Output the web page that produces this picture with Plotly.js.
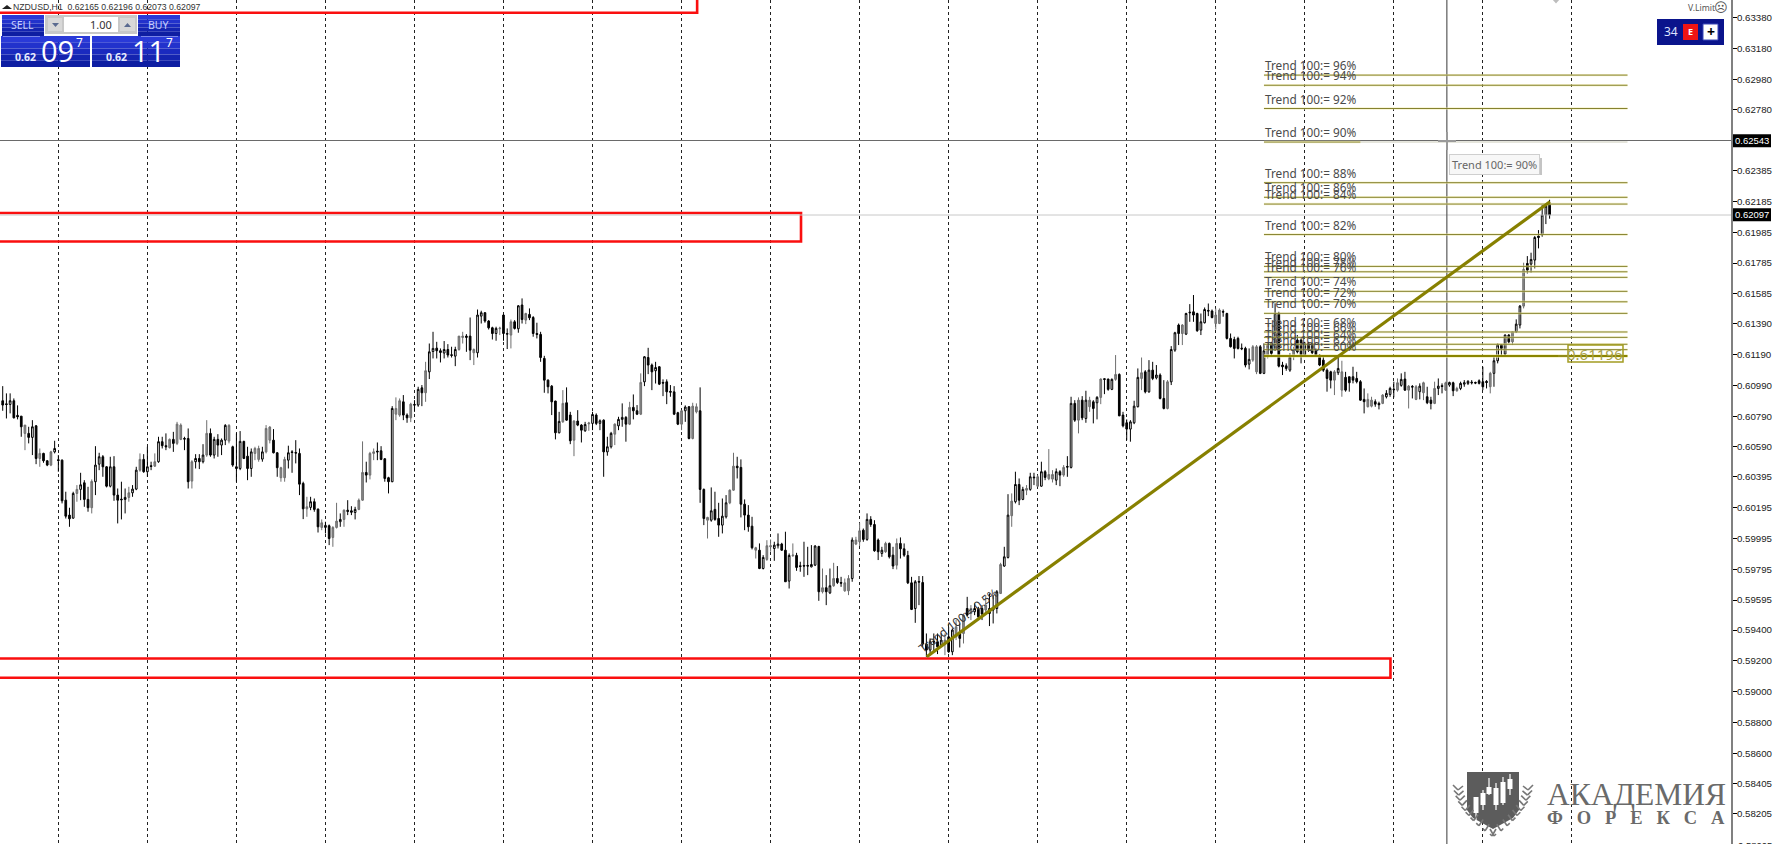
<!DOCTYPE html>
<html><head><meta charset="utf-8">
<script src="https://cdn.plot.ly/plotly-3.0.1.min.js"></script>
<style>html,body{margin:0;padding:0;background:#fff;overflow:hidden}#c{width:1777px;height:844px}</style>
</head><body><div id="c"></div>
<script>
// Prices x 100000 (NZDUSD H1)
const barOpen=[
60890,60870,60866,60890,60795,60790,60678,60678,60652,60727,
60515,60548,60500,60472,60558,60507,60504,60244,60147,60127,
60288,60314,60357,60249,60195,60364,60478,60526,60461,60335,
60461,60277,60251,60249,60262,60292,60316,60439,60509,60429,
60468,60465,60494,60624,60598,60585,60639,60613,60639,60645,
60645,60368,60494,60515,60494,60537,60678,60537,60639,60602,
60634,60628,60591,60461,60450,60626,60530,60450,60548,60509,
60511,60558,60634,60634,60552,60390,60390,60504,60558,60554,
60548,60353,60188,60197,60234,60186,60067,60067,60078,60002,
60067,60104,60119,60179,60175,60164,60184,60244,60424,60407,
60548,60563,60565,60513,60390,60364,60803,60797,60883,60797,
60779,60866,60862,60974,60942,61078,61210,61232,61215,61200,
61223,61189,61180,61223,61301,61301,61310,61202,61202,61440,
61462,61408,61364,61327,61358,61447,61327,61317,61403,61358,
61512,61414,61451,61431,61327,61321,61165,61024,60985,60888,
60682,60753,60877,60797,60634,60758,60732,60695,60740,60743,
60797,60743,60764,60558,60591,60673,60727,60769,60782,60738,
60847,60825,60803,61013,61171,61122,61085,61111,61009,61013,
60951,60948,60812,60738,60825,60851,60645,60818,60825,60314,
60114,60114,60184,60125,60082,60136,60227,60309,60465,60457,
60218,60147,60075,59919,59919,59800,59859,59941,59930,59948,
59959,59919,59718,59883,59885,59818,59820,59820,59811,59822,
59943,59649,59675,59642,59688,59735,59709,59655,59655,59735,
59959,59974,60049,59989,60119,60086,59985,59898,59909,59963,
59887,59822,59963,59928,59885,59707,59540,59716,59709,59309,
59270,59326,59324,59302,59313,59356,59259,59356,59378,59378,
59540,59508,59519,59534,59540,59530,59540,59530,59540,59638,
59816,59872,60143,60234,60346,60249,60309,60314,60394,60335,
60335,60429,60383,60381,60374,60429,60407,60463,60457,60873,
60764,60894,60775,60851,60883,60877,60912,61033,61031,60964,
61029,61061,60797,60747,60706,60747,60851,61035,61078,60948,
61089,61039,61057,60905,60840,61013,61219,61382,61327,61323,
61466,61468,61457,61349,61397,61477,61473,61392,61392,61470,
61457,61295,61288,61295,61232,61230,61128,61154,61078,61241,
61068,61176,61263,61219,61458,61122,61117,61089,61176,61284,
61284,61187,61263,61263,61219,61187,61154,61089,61078,61024,
61072,60959,61042,61046,61046,61035,61014,60899,60851,60855,
60884,60873,60873,60916,60931,60966,60959,60990,61031,60959,
60983,60899,60949,60942,60916,60894,60873,60970,60988,60959,
60992,61007,60955,60970,60998,61003,61011,61009,61020,61014,
61016,60981,61068,61150,61252,61193,61317,61273,61338,61382,
61505,61782,61778,61804,61960,61967,62097,62165];
const barHigh=[
60985,60938,60938,60905,60860,60790,60732,60721,60764,60732,
60580,60552,60504,60565,60630,60537,60509,60299,60195,60299,
60342,60422,60374,60331,60379,60595,60552,60537,60465,60526,
60530,60320,60364,60320,60331,60342,60461,60548,60543,60591,
60494,60548,60656,60656,60678,60645,60688,60753,60743,60656,
60710,60504,60543,60543,60608,60764,60710,60656,60673,60645,
60738,60738,60598,60678,60693,60630,60591,60580,60591,60598,
60591,60732,60725,60706,60556,60461,60526,60598,60569,60634,
60580,60364,60266,60266,60255,60190,60119,60104,60086,60075,
60227,60158,60184,60244,60205,60201,60255,60626,60494,60558,
60580,60619,60595,60517,60396,60855,60912,60905,60927,60808,
60877,60894,60981,60992,61143,61262,61338,61273,61230,61278,
61258,61241,61241,61310,61338,61323,61431,61230,61483,61475,
61466,61414,61371,61371,61371,61451,61360,61418,61414,61512,
61555,61462,61490,61440,61397,61338,61182,61029,60992,60890,
60818,60959,60977,60818,60764,60829,60738,60753,60753,60818,
60808,60769,60769,60656,60688,60743,60786,60873,60790,60883,
60931,60862,61068,61180,61234,61132,61143,61115,61029,61029,
60992,60985,60818,60829,60860,60855,60877,60873,60977,60320,
60136,60327,60299,60227,60255,60277,60314,60552,60526,60509,
60249,60212,60136,59941,59963,59887,59984,59989,59974,60028,
59967,60039,59898,59963,59902,59844,59974,59941,59952,59952,
59948,59800,59757,59800,59837,59816,59746,59735,59757,60002,
60006,60097,60060,60158,60140,60114,59995,59941,59974,59969,
59941,59995,60002,59963,59915,59746,59725,59751,59751,59378,
59346,59378,59378,59378,59378,59421,59411,59465,59443,59508,
59616,59562,59573,59551,59562,59627,59638,59627,59660,59837,
59941,60283,60288,60429,60385,60331,60342,60422,60422,60407,
60494,60439,60576,60439,60450,60439,60472,60530,60916,60894,
60912,60920,60955,60916,60894,60920,61035,61035,61033,61035,
61187,61068,60818,60769,60764,60890,61100,61171,61089,61154,
61143,61122,61068,61024,61024,61245,61338,61392,61388,61462,
61518,61577,61462,61457,61496,61522,61483,61490,61490,61483,
61462,61327,61306,61306,61262,61241,61230,61252,61252,61252,
61263,61263,61273,61523,61468,61143,61133,61198,61241,61317,
61295,61273,61273,61267,61230,61193,61176,61100,61085,61089,
61176,61150,61078,61046,61111,61078,61024,60970,60938,60916,
60899,60884,60933,60959,60981,61014,61035,61068,61078,60992,
60992,60992,61003,61014,60981,60916,61014,61035,61003,61014,
61014,61014,60981,61014,61024,61024,61024,61014,61029,61111,
61024,61078,61176,61263,61258,61321,61323,61343,61419,61512,
61787,61830,61852,61960,61999,62162,62172,62196];
const barLow=[
60825,60775,60808,60775,60769,60656,60569,60613,60537,60478,
60461,60487,60465,60465,60548,60429,60223,60125,60071,60125,
60234,60244,60201,60169,60158,60277,60439,60396,60327,60327,
60240,60093,60119,60158,60234,60266,60309,60429,60422,60396,
60439,60461,60487,60580,60569,60580,60558,60602,60634,60569,
60320,60320,60450,60446,60483,60526,60526,60515,60526,60537,
60602,60613,60461,60364,60439,60511,60374,60396,60504,60494,
60494,60548,60613,60548,60396,60364,60364,60450,60422,60483,
60277,60121,60136,60179,60169,60034,60049,60028,59952,59941,
60060,60071,60071,60147,60147,60119,60179,60240,60359,60379,
60504,60504,60504,60364,60288,60361,60764,60786,60764,60747,
60751,60818,60851,60855,60883,61031,61165,61165,61139,61165,
61171,61171,61115,61215,61262,61208,61154,61122,61171,61392,
61397,61353,61288,61280,61317,61280,61226,61230,61353,61332,
61392,61388,61414,61306,61295,61143,60942,60938,60797,60639,
60678,60747,60760,60608,60530,60725,60619,60688,60695,60699,
60732,60699,60396,60533,60580,60602,60699,60721,60624,60732,
60769,60797,60797,60985,61063,60959,61002,60992,60920,60868,
60916,60797,60732,60699,60753,60639,60639,60808,60227,60082,
59995,60104,60110,60006,60028,60125,60218,60305,60385,60132,
60049,60039,59924,59865,59796,59794,59850,59909,59850,59930,
59915,59714,59670,59876,59785,59779,59746,59757,59807,59816,
59590,59638,59562,59634,59681,59699,59681,59649,59627,59714,
59952,59946,59974,59980,60071,59909,59855,59876,59902,59865,
59796,59794,59865,59876,59699,59530,59447,59562,59291,59226,
59237,59259,59244,59291,59237,59252,59237,59335,59287,59313,
59486,59465,59497,59465,59465,59508,59426,59443,59508,59634,
59811,59865,60071,60223,60212,60244,60277,60305,60342,60331,
60331,60374,60374,60359,60342,60335,60396,60396,60450,60753,
60678,60764,60747,60818,60743,60769,60868,60933,60955,60959,
61020,60790,60717,60634,60624,60738,60847,60959,60938,60942,
61024,61029,60899,60834,60834,60992,61208,61252,61252,61317,
61403,61403,61338,61317,61392,61440,61425,61353,61388,61436,
61288,61236,61165,61223,61219,61107,61094,61143,61063,61063,
61063,61165,61187,61215,61107,61057,61085,61078,61154,61198,
61133,61176,61208,61193,61176,61115,61078,60949,60970,60927,
61057,60916,60949,60949,61003,61003,60890,60808,60847,60847,
60851,60834,60868,60905,60916,60912,60949,60981,60955,60840,
60905,60894,60899,60894,60868,60834,60868,60927,60938,60955,
60981,60920,60949,60959,60981,60992,60996,60998,60996,60959,
60970,60938,60981,61133,61176,61176,61263,61252,61332,61360,
61490,61717,61722,61750,61880,61956,62038,62073];
const barClose=[
60862,60866,60890,60779,60786,60721,60732,60652,60721,60515,
60548,60500,60472,60558,60580,60502,60240,60140,60123,60288,
60314,60344,60249,60195,60366,60472,60526,60461,60335,60461,
60277,60244,60247,60262,60292,60316,60439,60509,60429,60461,
60463,60494,60624,60598,60591,60639,60613,60738,60732,60641,
60364,60494,60515,60494,60537,60678,60537,60639,60602,60634,
60730,60730,60472,60450,60626,60515,60450,60558,60580,60580,
60558,60710,60719,60552,60455,60455,60509,60552,60554,60550,
60348,60188,60201,60234,60184,60071,60097,60080,59995,60067,
60108,60119,60179,60171,60166,60184,60244,60424,60407,60548,
60558,60558,60509,60385,60364,60840,60840,60890,60797,60779,
60868,60862,60964,60942,61085,61208,61230,61215,61204,61223,
61187,61185,61223,61310,61310,61310,61219,61223,61447,61462,
61408,61364,61327,61360,61362,61327,61323,61403,61360,61507,
61418,61457,61429,61327,61321,61171,61024,60981,60883,60682,
60756,60873,60764,60630,60758,60732,60699,60736,60745,60801,
60743,60760,60558,60591,60678,60738,60769,60782,60738,60847,
60825,60803,61009,61176,61122,61078,61106,60998,61005,60948,
60946,60803,60738,60825,60849,60645,60855,60851,60314,60125,
60132,60175,60119,60082,60140,60227,60309,60465,60455,60218,
60147,60071,59935,59935,59800,59872,59948,59948,59952,59959,
59919,59714,59885,59887,59807,59813,59816,59816,59826,59946,
59649,59675,59649,59688,59735,59709,59705,59707,59735,59985,
59985,60045,59989,60119,60086,59915,59909,59919,59963,59876,
59816,59963,59928,59887,59707,59534,59714,59712,59309,59270,
59324,59322,59291,59335,59335,59259,59400,59421,59346,59497,
59497,59540,59540,59486,59504,59562,59508,59540,59649,59826,
59876,60147,60238,60346,60244,60314,60320,60396,60390,60396,
60429,60392,60411,60411,60429,60407,60457,60459,60873,60764,
60894,60779,60894,60894,60840,60912,61031,61029,60964,61029,
61061,60792,60727,60706,60753,60855,61042,61072,60948,61089,
61035,61057,60905,60840,61013,61223,61332,61327,61382,61457,
61462,61447,61345,61403,61483,61473,61431,61447,61479,61466,
61295,61241,61230,61230,61228,61122,61159,61241,61241,61068,
61215,61252,61198,61458,61115,61111,61100,61176,61215,61208,
61176,61263,61219,61202,61180,61122,61089,61035,61024,61078,
61100,61078,60959,61007,61024,61014,60894,60884,60899,60894,
60868,60864,60927,60938,60970,60962,61007,61029,60959,60985,
60979,60981,60985,61007,60877,60873,60970,60985,60983,61007,
61009,60955,60970,61003,61007,61016,61007,61005,61003,60981,
61009,61068,61150,61252,61230,61317,61273,61338,61388,61505,
61743,61739,61808,61951,61951,62097,62155,62097];
// bars that show as mid-grey in the video-blurred picture
const greyBars=[6,10,13,20,24,34,37,41,45,47,48,51,55,61,68,69,71,72,75,76,82,86,89,90,92,96,97,99,100,106,107,110,114,123,124,127,134,137,141,151,154,158,165,169,172,183,186,187,190,196,197,203,206,207,213,221,224,227,228,230,231,238,241,254,257,259,261,265,269,272,276,279,282,283,286,290,293,296,300,307,314,318,327,328,337,338,341,348,359,361,368,369,372,376,379,381,383,386,389,392,401,407,410];
const separatorBars=[15,39,63,87,111,135,159,183,207,231,255,279,303,327,351,375,399,423];
const priceTicks=[0.6338,0.6318,0.6298,0.6278,0.62385,0.62185,0.61985,0.61785,0.61585,0.6139,0.6119,0.6099,0.6079,0.6059,0.60395,0.60195,0.59995,0.59795,0.59595,0.594,0.592,0.59,0.588,0.586,0.58405,0.58205];
const priceTickLabels=['0.63380','0.63180','0.62980','0.62780','0.62385','0.62185','0.61985','0.61785','0.61585','0.61390','0.61190','0.60990','0.60790','0.60590','0.60395','0.60195','0.59995','0.59795','0.59595','0.59400','0.59200','0.59000','0.58800','0.58600','0.58405','0.58205'];
const levelPercents=[96,94,92,90,88,86,84,82,80,78,76,74,72,70,68,66,64,62,60];
const levelPrices=[0.63006,0.6294,0.62789,0.62571,0.62307,0.62212,0.62168,0.6197,0.61763,0.61728,0.61692,0.61601,0.61533,0.61458,0.61337,0.61302,0.61257,0.61222,0.61181];
const levelBars=[340,438];
const trendBars=[249.1,417.1];
const trendPrices=[0.59227,0.62183];
const redZones=[{end:187.2,lo:0.63411,hi:0.64},{end:215.2,lo:0.61925,hi:0.6211},{end:374.1,lo:0.5909,hi:0.59215}];
const lastPrice=0.62097, crossPrice=0.62581, crossBar=389.3;

const W=1731,H=844;
const px=x=>x/W, py=y=>1-y/H;
const shapes=[],ann=[];
function rect(x0,y0,x1,y1,fill,line,lw){shapes.push({type:'rect',xref:'paper',yref:'paper',x0:px(x0),x1:px(x1),y0:py(y0),y1:py(y1),fillcolor:fill,line:{color:line||fill,width:line?(lw||1):0}});}
function seg(x0,y0,x1,y1,c,w){shapes.push({type:'line',xref:'paper',yref:'paper',x0:px(x0),x1:px(x1),y0:py(y0),y1:py(y1),line:{color:c,width:w}});}
function poly(pts,fill){shapes.push({type:'path',xref:'paper',yref:'paper',path:'M'+pts.map(p=>px(p[0])+','+py(p[1])).join('L')+'Z',fillcolor:fill,line:{width:0}});}
function txt(x,y,t,size,color,anchor,font,extra){ann.push(Object.assign({xref:'paper',yref:'paper',x:px(x),y:py(y),text:t,showarrow:false,xanchor:anchor||'left',yanchor:'middle',borderpad:0,font:{size,color,family:font||'"Noto Sans",sans-serif'}},extra||{}));}

// data-space objects
redZones.forEach(z=>shapes.push({type:'rect',xref:'x',yref:'y',x0:-30,x1:z.end,y0:z.lo,y1:z.hi,line:{color:'#fa0f0f',width:2.6},fillcolor:'rgba(0,0,0,0)'}));
// crosshair and last price
shapes.push({type:'line',xref:'paper',yref:'y',x0:0,x1:1,y0:lastPrice,y1:lastPrice,line:{color:'#c8c8c8',width:1}});
shapes.push({type:'line',xref:'paper',yref:'y',x0:0,x1:1,y0:crossPrice,y1:crossPrice,line:{color:'#6a6a6a',width:1.2}});
shapes.push({type:'line',xref:'x',yref:'paper',x0:crossBar,x1:crossBar,y0:0,y1:1,line:{color:'#5a5a5a',width:1.2}});
// fib levels
levelPrices.forEach((p,i)=>{
 const last=i===levelPrices.length-1, pct=levelPercents[i];
 const end=pct===90?366:levelBars[1];
 if(pct===90) shapes.push({type:'line',xref:'x',yref:'y',x0:366,x1:levelBars[1],y0:p,y1:p,line:{color:'#dcdcd0',width:1.5}});
 shapes.push({type:'line',xref:'x',yref:'y',x0:levelBars[0],x1:end,y0:p,y1:p,line:{color:'rgba(240,235,170,0.55)',width:last?4:2.4}});
 shapes.push({type:'line',xref:'x',yref:'y',x0:levelBars[0],x1:end,y0:p,y1:p,line:{color:last?'#8a8400':'#85822e',width:last?2.2:1}});
 ann.push({xref:'x',yref:'y',x:levelBars[0],y:p,yshift:10,text:'Trend 100:= '+pct+'%',showarrow:false,xanchor:'left',yanchor:'middle',borderpad:0,font:{size:11.8,color:'#4a4a4a',family:'"Noto Sans",sans-serif'}});
});
// trend line
shapes.push({type:'line',xref:'x',yref:'y',x0:trendBars[0],x1:trendBars[1],y0:trendPrices[0],y1:trendPrices[1],line:{color:'#878000',width:3.2}});
ann.push({xref:'x',yref:'y',x:257.5,y:0.59465,text:'Trend 100:= 0.5%',textangle:-37.5,xanchor:'center',yanchor:'middle',showarrow:false,font:{size:12,color:'#333',family:'"Noto Sans",sans-serif'}});
// 0.61196 price box
seg(1558,356,1568,356,'#9a9430',1);
rect(1568,345,1623,362,'rgba(255,255,255,0)','#a39c22',1.5);
ann.push({xref:'x',yref:'y',x:429.3,y:0.61196,yshift:-0.5,text:'0.61196',xanchor:'center',yanchor:'middle',showarrow:false,borderpad:0,font:{size:15,color:'#a8a24a',family:'"Noto Sans",sans-serif'}});
// price labels on axis
function priceBox(y,t){rect(1733,y-6.5,1771,y+6.5,'#000');txt(1752,y,t,9.5,'#fff','center','"Liberation Sans",sans-serif');}
priceBox(140.7,'0.62543');priceBox(214.7,'0.62097');
txt(1737,845,'0.58005',9.5,'#222','left','"Liberation Sans",sans-serif');
// tooltip
rect(1453,158,1542,175,'#c4c4c4');
ann.push({xref:'paper',yref:'paper',x:px(1494),y:py(164),xanchor:'center',yanchor:'middle',text:'Trend 100:= 90%',showarrow:false,bgcolor:'#f7f7f7',bordercolor:'#cfcfcf',borderwidth:1,borderpad:2,font:{size:11,color:'#666',family:'"Noto Sans",sans-serif'}});
// crosshair cursor
seg(1438,141,1456,141,'#9a9a9a',2);seg(1447,132,1447,150,'#9a9a9a',2);
// chart object tip at the top edge
poly([[1552,-1],[1560,-1],[1556,3.5]],'#bdbdbd');
// top left header
poly([[2,9],[7,5],[12,9]],'#222');
txt(12,7,'NZDUSD,H1  0.62165 0.62196 0.62073 0.62097',8.7,'#333','left','"Liberation Sans",sans-serif');
// one click panel
const blues=['#2a3ad8','#2232cc','#1a2abf','#1424b0','#0e1ea2'];
function gradient(x0,y0,x1,y1){const n=blues.length;for(let i=0;i<n;i++)rect(x0,y0+(y1-y0)*i/n,x1,y0+(y1-y0)*(i+1)/n,blues[i]);}
gradient(2,15,44,36);gradient(138,15,180,36);gradient(1,36,90,67);gradient(92,36,180,67);
seg(3,36.5,40,36.5,'#7a86e8',1);seg(141,36.5,178,36.5,'#7a86e8',1);
rect(45,15,137,34,'#c8c8c8');rect(64,17,118,32,'#ffffff');rect(48,18,62,31,'#d8d8d8');rect(120,18,135,31,'#d8d8d8');
poly([[52,23],[59,23],[55.5,27]],'#5a6a90');poly([[124,27],[131,27],[127.5,23]],'#5a6a90');
txt(22,25,'SELL',10.5,'#c6ceff','center');txt(158,25,'BUY',10.5,'#c6ceff','center');
txt(113,24.5,'1.00',11,'#333','right');
txt(14,57,'<b>0.62</b>',10.5,'#e8ecff');txt(105,57,'<b>0.62</b>',10.5,'#e8ecff');
txt(40,50,'09',29,'#fff','left','"Open Sans",sans-serif');txt(131,50,'11',29,'#fff','left','"Open Sans",sans-serif');
txt(75,43,'7',12,'#fff');txt(165,43,'7',12,'#fff');
// top right panel
txt(1687,8,'V.Limit',8.6,'#555');txt(1721,8,'☹',13,'#555','center','"DejaVu Sans",sans-serif');
rect(1657,19,1724,45,'#0a148c');
txt(1663,32,'34',12,'#dfe3ff');
rect(1683,24,1698,40,'#f01414');txt(1690.5,32,'<b>E</b>',9,'#fff','center');
rect(1703,24,1718,40,'#ffffff','#3a48b8',1);txt(1710.5,32,'<b>+</b>',14,'#000','center');
// watermark
poly([[1467,772],[1519,772],[1519,810],[1513,818],[1493,829],[1473,818],[1467,810]],'#5c5c5c');
[[1476,800,820,797,813],[1483,790,810,793,805],[1489,778,795,787,794],[1496,783,810,788,805],[1503,777,805,782,803],[1510,774,795,779,789]].forEach(c=>{
 seg(c[0],c[1],c[0],c[2],'#fff',1.2);rect(c[0]-2.5,c[3],c[0]+2.5,c[4],'#fff');});
for(let i=0;i<10;i++){const t=i/9;
 const xl=1458+t*t*32+t*2, yl=790+t*46;
 seg(xl,yl,xl-5+t*3,yl-5+t*3,'#777',1.6);seg(xl,yl,xl+5-t*1,yl-4-t*3,'#777',1.6);
 const xr=2*1493-xl;
 seg(xr,yl,xr+5-t*3,yl-5+t*3,'#777',1.6);seg(xr,yl,xr-5+t*1,yl-4-t*3,'#777',1.6);}
txt(1546,794,'АКАДЕМИЯ',31.5,'#6a6a6a','left','"Liberation Serif",serif');
txt(1546,818,'<b>Ф\u00A0\u00A0\u00A0О\u00A0\u00A0\u00A0Р\u00A0\u00A0\u00A0Е\u00A0\u00A0\u00A0К\u00A0\u00A0\u00A0С\u00A0\u00A0\u00A0А</b>',18.5,'#6a6a6a','left','"Liberation Serif",serif');

const isGrey=new Set(greyBars);
const all=barOpen.map((_,i)=>i);
const pick=(arr,idx)=>idx.map(i=>arr[i]/100000);
const normal=all.filter(i=>!isGrey.has(i));
const traces=[
 {type:'candlestick',x:normal,open:pick(barOpen,normal),high:pick(barHigh,normal),low:pick(barLow,normal),close:pick(barClose,normal),
  increasing:{line:{color:'#000',width:1},fillcolor:'#fff'},decreasing:{line:{color:'#000',width:1},fillcolor:'#000'},hoverinfo:'skip',showlegend:false},
 {type:'candlestick',x:greyBars,open:pick(barOpen,greyBars),high:pick(barHigh,greyBars),low:pick(barLow,greyBars),close:pick(barClose,greyBars),
  increasing:{line:{color:'#6e6e6e',width:1},fillcolor:'#8a8a8a'},decreasing:{line:{color:'#6e6e6e',width:1},fillcolor:'#8a8a8a'},hoverinfo:'skip',showlegend:false}
];
const layout={width:1777,height:844,margin:{l:0,r:46,t:0,b:0,pad:0},paper_bgcolor:'#fff',plot_bgcolor:'#fff',showlegend:false,boxgap:0.35,
 xaxis:{type:'linear',range:[-0.73,465.9],rangeslider:{visible:false},tickvals:separatorBars,showticklabels:false,ticks:'',showgrid:true,gridcolor:'#222',gridwidth:1,griddash:'3px,3px',zeroline:false,showline:false,fixedrange:true},
 yaxis:{side:'right',range:[0.5801,0.63494],tickvals:priceTicks,ticktext:priceTickLabels,ticks:'outside',ticklen:4,tickcolor:'#000',ticklabelstandoff:-2,tickfont:{size:9.7,color:'#222',family:'"Liberation Sans",sans-serif'},showline:true,linecolor:'#808080',linewidth:2,showgrid:false,zeroline:false,fixedrange:true},
 shapes:shapes,annotations:ann};
Plotly.newPlot('c',traces,layout,{displayModeBar:false,staticPlot:true});
</script></body></html>
